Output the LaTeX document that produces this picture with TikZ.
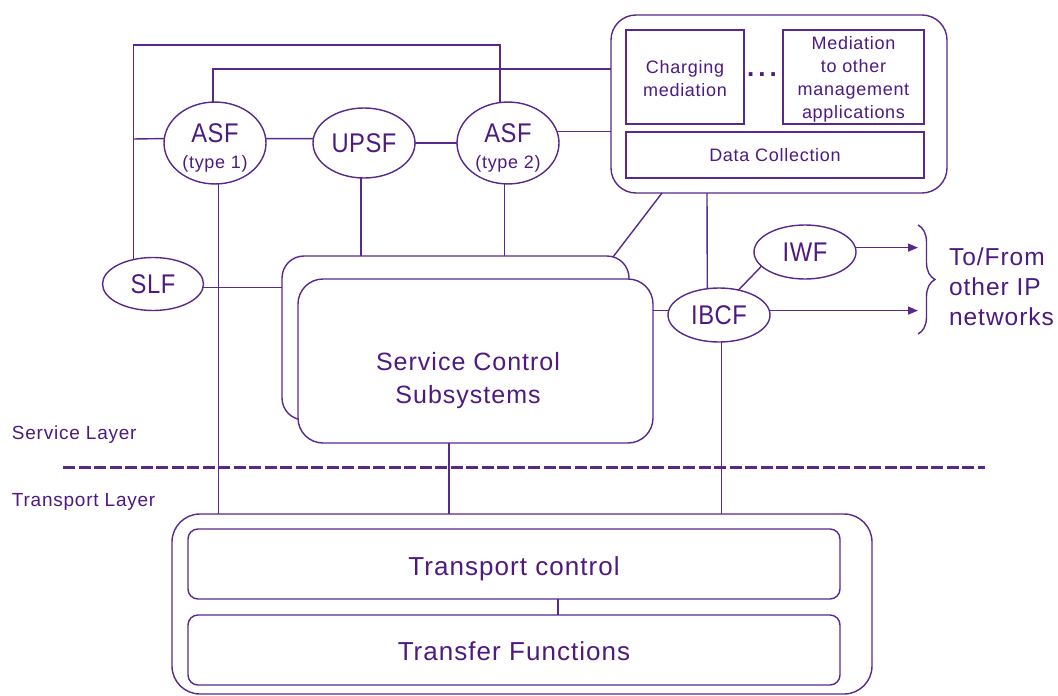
\documentclass[tikz,border=0pt]{standalone}
\usepackage{fontspec}
\setmainfont[LetterSpace=4]{Liberation Sans}
\newfontfamily\ellf[FakeStretch=0.88,LetterSpace=2]{Liberation Sans}
\usetikzlibrary{shapes.geometric,arrows.meta,decorations.pathreplacing,calc}
\definecolor{purp}{RGB}{88,40,140}
\definecolor{tpurp}{RGB}{78,26,128}
\newcommand{\myfz}[2]{\fontsize{#1}{#2}\selectfont}
\begin{document}
\begin{tikzpicture}[x=1pt,y=-1pt,
  ln/.style={draw=purp,line width=1.4pt},
  ell/.style={ellipse,draw=purp,line width=1.4pt,fill=white,inner sep=0pt,outer sep=0pt,text=tpurp,align=center},
  sbox/.style={rectangle,draw=purp,line width=1.4pt,fill=white,inner sep=0pt,outer sep=0pt,text=tpurp,align=center},
  rbox/.style={sbox,rounded corners=#1},
  txt/.style={text=tpurp,inner sep=0pt,outer sep=0pt},
  arr/.style={ln,-{Triangle[length=10pt,width=8pt]}}
]
\useasboundingbox (0,0) rectangle (1058,696);
\fill[white] (0,0) rectangle (1058,696);

% management box
\node[rbox=25pt,minimum width=336pt,minimum height=178pt] (mgmt) at (779,104) {};
\node[sbox,minimum width=118pt,minimum height=94pt,font=\myfz{18}{23}] (charg) at (685,77) {\rule{0pt}{17pt}Charging\\mediation};
\node[sbox,minimum width=141pt,minimum height=94pt,font=\myfz{18}{23}] (medi) at (853.5,77) {\rule{0pt}{17pt}Mediation\\to other\\management\\applications};
\node[sbox,minimum width=298pt,minimum height=46pt,font=\myfz{18}{20}] (datac) at (775,155) {Data Collection};
\node[txt,font=\bfseries\myfz{26}{26}] (dots) at (762,75) {.\hspace{4pt}.\hspace{4pt}.};

% ellipses
\node[ell,minimum width=102pt,minimum height=70pt,font=\ellf\myfz{27}{25.5}] (asf1) at (215,143) {\rule{0pt}{28.7pt}ASF\\{\rmfamily\myfz{18}{18}(type 1)}};
\node[ell,minimum width=102pt,minimum height=70pt,font=\ellf\myfz{27}{27}] (upsf) at (364,143) {UPSF};
\node[ell,minimum width=102pt,minimum height=70pt,font=\ellf\myfz{27}{25.5}] (asf2) at (508,143) {\rule{0pt}{28.7pt}ASF\\{\rmfamily\myfz{18}{18}(type 2)}};
\node[ell,minimum width=101pt,minimum height=53pt,font=\ellf\myfz{27}{27}] (slf) at (153,284) {SLF};
\node[ell,minimum width=102pt,minimum height=54pt,font=\ellf\myfz{27}{27}] (iwf) at (805,252) {IWF};
\node[ell,minimum width=102pt,minimum height=54pt,font=\ellf\myfz{27}{27}] (ibcf) at (719,315) {IBCF};

% service control subsystems
\node[rbox=22pt,minimum width=347pt,minimum height=164pt] (scsback) at (455.5,338) {};
\node[rbox=25pt,minimum width=355pt,minimum height=164pt] (scsfront) at (475.5,361) {};
\node[txt,align=center,font=\myfz{25}{33}] (scstext) at (468,381) {Service Control\\Subsystems};

% transport
\node[rbox=28pt,minimum width=700pt,minimum height=180pt] (tout) at (522,604) {};
\node[rbox=10pt,minimum width=652pt,minimum height=70pt,font=\myfz{26}{26},text height=26pt,text depth=4pt] (tc) at (514,564) {Transport control};
\node[rbox=10pt,minimum width=652pt,minimum height=70pt,font=\myfz{26}{26},text height=25pt,text depth=5pt] (tf) at (514,650) {Transfer Functions};

% layer labels
\node[txt,anchor=base west,font=\myfz{19}{19}] (sl) at (12,439) {Service Layer};
\node[txt,anchor=base west,font=\myfz{19}{19}] (tl) at (12,506) {Transport Layer};
\coordinate (dl) at (63,467);
\coordinate (dr) at (985,467);
\draw[draw=purp,line width=3pt,dash pattern=on 12pt off 3.5pt] (dl) -- (dr);

% connectors
\coordinate (jl) at (133,139);
\coordinate (scscorner) at (613,257);
\coordinate (iwfend) at (918,248);
\coordinate (ibcfend) at (918,311);
\draw[ln] (slf.129.5) -- (slf.129.5 |- 0,45) -- (asf2.101 |- 0,45) -- (asf2.101);
\draw[ln] (jl) -- (asf1.175.5);
\draw[ln] (asf1.93) |- (mgmt.west |- 0,69);
\draw[ln] (asf1.5) -- (upsf.175);
\draw[ln] (upsf.east) -- (asf2.west);
\draw[ln] (asf2.13) -- (mgmt.west |- asf2.13);
\draw[ln] (asf1.-85) -- (asf1.-85 |- tout.north);
\draw[ln] (upsf.-95) -- (upsf.-95 |- scsback.north);
\draw[ln] (asf2.-95) -- (asf2.-95 |- scsback.north);
\draw[ln] (slf.-4) -- (scsback.west |- slf.-4);
\draw[ln] (mgmt.south -| 662,0) -- (scscorner);
\draw[ln] (mgmt.south -| 707,0) -- (ibcf.114.6);
\draw[ln] (ibcf.175) -- (scsfront.east |- ibcf.175);
\draw[ln] (ibcf.52.8) -- (iwf.198.6);
\draw[arr] (iwf.5) -- (iwf.5 -| iwfend);
\draw[arr] (ibcf.5) -- (ibcf.5 -| ibcfend);
\draw[ln] (ibcf.-85) -- (ibcf.-85 |- tout.north);
\draw[ln] (scsfront.south -| 449,0) -- (tout.north -| 449,0);
\draw[ln] (tc.south -| 558,0) -- (tf.north -| 558,0);

% brace and external label
\draw[ln,decorate,decoration={brace,amplitude=17pt}] (918,225) -- (918,334);
\node[txt,anchor=west,align=left,font=\myfz{24.5}{30}] (ext) at (949,287) {To/From\\other IP\\networks};
\end{tikzpicture}
\end{document}
